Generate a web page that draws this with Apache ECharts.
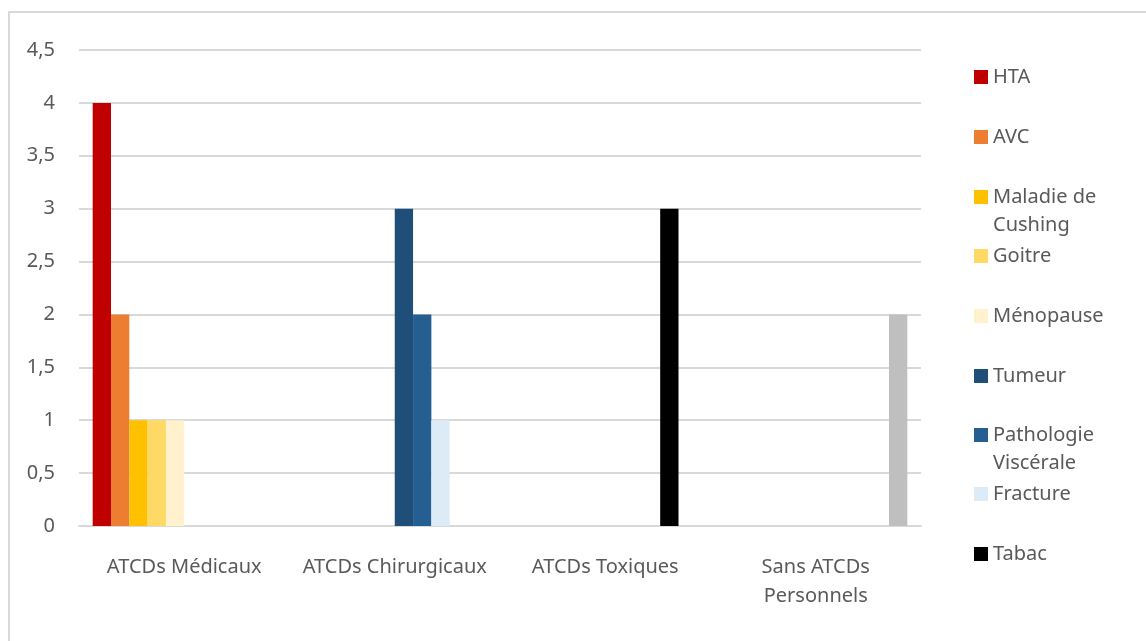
<!DOCTYPE html>
<html>
<head>
<meta charset="utf-8">
<style>
  html, body { margin: 0; padding: 0; background: #fff; }
  #chart { width: 1146px; height: 641px; }
</style>
<script src="https://cdn.jsdelivr.net/npm/echarts@6/dist/echarts.min.js"></script>
</head>
<body>
<div id="chart"></div>
<script>
// Catégories d'antécédents
const categories = ['ATCDs Médicaux', 'ATCDs Chirurgicaux', 'ATCDs Toxiques', 'Sans ATCDs\nPersonnels'];

// Effectifs par antécédent (une valeur par catégorie)
const seriesNames = ['HTA', 'AVC', 'Maladie de Cushing', 'Goitre', 'Ménopause',
                     'Tumeur', 'Pathologie Viscérale', 'Fracture', 'Tabac', 'Aucun'];
const hta        = [4, 0, 0, 0];
const avc        = [2, 0, 0, 0];
const cushing    = [1, 0, 0, 0];
const goitre     = [1, 0, 0, 0];
const menopause  = [1, 0, 0, 0];
const tumeur     = [0, 3, 0, 0];
const pathologie = [0, 2, 0, 0];
const fracture   = [0, 1, 0, 0];
const tabac      = [0, 0, 3, 0];
const aucun      = [0, 0, 0, 2];
const values = [hta, avc, cushing, goitre, menopause, tumeur, pathologie, fracture, tabac, aucun];

// Graduations de l'axe des ordonnées
const yTicks = ['0', '0,5', '1', '1,5', '2', '2,5', '3', '3,5', '4', '4,5'];

const colors = ['#C00000', '#ED7D31', '#FFC000', '#FFD966', '#FFF2CC',
                '#1F4E79', '#255E91', '#DDEBF7', '#000000', '#BFBFBF'];

// Libellés de légende : première ligne à côté du carré, suite éventuelle en dessous
const legendFirstLine = { 'Maladie de Cushing': 'Maladie de', 'Pathologie Viscérale': 'Pathologie' };
const legendSecondLine = { 'Maladie de Cushing': 'Cushing', 'Pathologie Viscérale': 'Viscérale' };
const legendNames = seriesNames.slice(0, 9);

const textColor = '#595959';
const fontFamily = '"Noto Sans", "Open Sans", sans-serif';
const fontSize = 20;
const lineH = 28;

// Une légende par entrée, placées verticalement à pas régulier
const legendLeft = 974;
const legendCenters = [77, 137, 197, 256, 316, 376, 435, 494, 554];
const legends = legendNames.map((name, i) => ({
  data: [name],
  left: legendLeft,
  top: legendCenters[i] - lineH / 2,
  padding: 0,
  itemWidth: 14,
  itemHeight: 14,
  itemGap: 5,
  icon: 'rect',
  selectedMode: false,
  formatter: n => legendFirstLine[n] || n,
  textStyle: { color: textColor, fontSize: fontSize, fontFamily: fontFamily, lineHeight: lineH }
}));

const continuation = legendNames
  .map((name, i) => ({ name, i }))
  .filter(d => legendSecondLine[d.name])
  .map(d => ({
    type: 'text',
    silent: true,
    left: legendLeft + 14 + 5,
    top: legendCenters[d.i] + lineH / 2,
    style: {
      text: legendSecondLine[d.name],
      fill: textColor, fontSize: fontSize, fontFamily: fontFamily,
      lineHeight: lineH
    }
  }));

const chart = echarts.init(document.getElementById('chart'), null, { renderer: 'canvas' });
chart.setOption({
  animation: false,
  backgroundColor: '#ffffff',
  color: colors,
  graphic: [{
    type: 'rect',
    silent: true,
    shape: { x: 9, y: 12, width: 1200, height: 700 },
    style: { fill: 'none', stroke: '#d9d9d9', lineWidth: 2 }
  }].concat(continuation),
  legend: legends,
  grid: { left: 79, right: 225, top: 50, bottom: 115, containLabel: false },
  xAxis: {
    type: 'category',
    data: categories,
    axisLine: { show: true, lineStyle: { color: '#d9d9d9', width: 2 } },
    axisTick: { show: false },
    axisLabel: {
      color: textColor, fontSize: fontSize, fontFamily: fontFamily,
      lineHeight: 29, margin: 27, interval: 0
    }
  },
  yAxis: {
    type: 'value',
    min: 0, max: 4.5, interval: 0.5,
    axisLine: { show: false },
    axisTick: { show: false },
    splitLine: { lineStyle: { color: '#d9d9d9', width: 2 } },
    axisLabel: {
      color: textColor, fontSize: fontSize, fontFamily: fontFamily, margin: 24,
      formatter: v => yTicks[Math.round(v / 0.5)]
    }
  },
  series: seriesNames.map((name, i) => ({
    name: name,
    type: 'bar',
    data: values[i],
    barGap: '0%',
    barCategoryGap: '13%',
    itemStyle: { color: colors[i] }
  }))
});
</script>
</body>
</html>
